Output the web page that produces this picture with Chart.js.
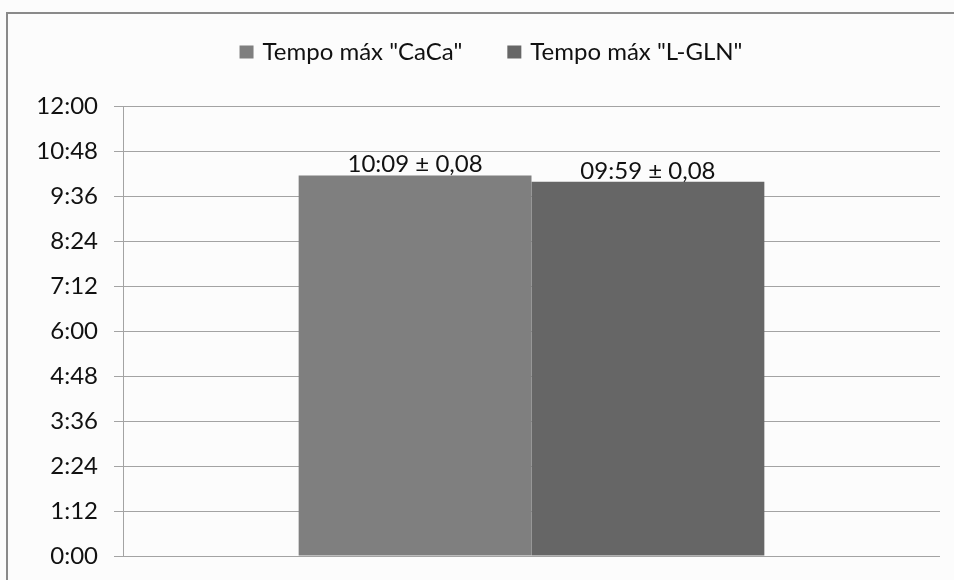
<!DOCTYPE html>
<html>
<head>
<meta charset="utf-8">
<script src="https://cdn.jsdelivr.net/npm/chart.js@4.4.1/dist/chart.umd.min.js"></script>
<style>
  html, body { margin: 0; padding: 0; background: #ffffff; }
  #wrap { width: 954px; height: 580px; position: relative; }
</style>
</head>
<body>
<div id="wrap"><canvas id="chart" width="954" height="580"></canvas></div>
<script>
// Maximum times, stored in seconds (mm:ss)
const categories = [''];
const seriesNames = ['Tempo máx "CaCa"', 'Tempo máx "L-GLN"'];
const caCaSeconds = [609];   // 10:09
const lGlnSeconds = [599];   // 09:59
const errorLabels = ['0,08', '0,08'];
const seriesColors = ['#7f7f7f', '#666666'];

// y-axis: 0:00 .. 12:00 in steps of 1:12
const yMin = 0, yMax = 720, yStep = 72;

const FONT = 'Lato, "Open Sans", sans-serif';
const TEXT = '#111111';
const GRID = '#a3a3a3';

function mmss(sec, pad) {
  const m = Math.floor(sec / 60);
  const s = Math.round(sec % 60);
  const mStr = pad ? String(m).padStart(2, '0') : String(m);
  return mStr + ':' + String(s).padStart(2, '0');
}

// background + outer frame
const framePlugin = {
  id: 'frame',
  beforeDraw(chart) {
    const ctx = chart.ctx;
    ctx.save();
    ctx.fillStyle = '#fcfcfc';
    ctx.fillRect(0, 0, chart.width, chart.height);
    ctx.strokeStyle = '#8a8a8a';
    ctx.lineWidth = 2;
    ctx.strokeRect(7, 13, chart.width + 20, chart.height + 20);
    ctx.restore();
  }
};

// legend row above the plot
const legendRow = {
  id: 'legendRow',
  afterDraw(chart) {
    const ctx = chart.ctx;
    const boxW = 14, boxH = 13, gap = 9, between = 45, cy = 52, centreX = 491;
    ctx.save();
    ctx.font = '24px ' + FONT;
    ctx.textBaseline = 'middle';
    const widths = chart.data.datasets.map(d => ctx.measureText(d.label).width);
    let total = 0;
    widths.forEach((w, i) => { total += boxW + gap + w + (i ? between : 0); });
    let x = centreX - total / 2;
    chart.data.datasets.forEach((d, i) => {
      ctx.fillStyle = d.backgroundColor;
      ctx.fillRect(x, cy - boxH / 2, boxW, boxH);
      ctx.fillStyle = TEXT;
      ctx.fillText(d.label, x + boxW + gap, cy);
      x += boxW + gap + widths[i] + between;
    });
    ctx.restore();
  }
};

// value ± error above each bar
const valueLabels = {
  id: 'valueLabels',
  afterDatasetsDraw(chart) {
    const ctx = chart.ctx;
    ctx.save();
    ctx.font = '24px ' + FONT;
    ctx.fillStyle = TEXT;
    ctx.textAlign = 'center';
    ctx.textBaseline = 'alphabetic';
    chart.data.datasets.forEach((d, i) => {
      const meta = chart.getDatasetMeta(i);
      meta.data.forEach((bar, j) => {
        const txt = mmss(d.data[j], true) + ' \u00b1 ' + errorLabels[i];
        ctx.fillText(txt, bar.x, bar.y - 3);
      });
    });
    ctx.restore();
  }
};

new Chart(document.getElementById('chart'), {
  type: 'bar',
  data: {
    labels: categories,
    datasets: [
      { label: seriesNames[0], data: caCaSeconds, backgroundColor: seriesColors[0], borderWidth: 0 },
      { label: seriesNames[1], data: lGlnSeconds, backgroundColor: seriesColors[1], borderWidth: 0 }
    ]
  },
  options: {
    responsive: false,
    animation: false,
    devicePixelRatio: 1,
    layout: { padding: { top: 106, right: 14, bottom: 24, left: 0 } },
    datasets: { bar: { categoryPercentage: 0.57, barPercentage: 1.0 } },
    plugins: { legend: { display: false }, tooltip: { enabled: false } },
    scales: {
      x: { display: false },
      y: {
        min: yMin,
        max: yMax,
        afterFit(scale) {
          scale.width = 123;
          scale.paddingTop = 0;
          scale.paddingBottom = 0;
        },
        afterBuildTicks(scale) {
          const t = [];
          for (let v = yMin; v <= yMax; v += yStep) t.push({ value: v });
          scale.ticks = t;
        },
        ticks: {
          padding: 16,
          color: TEXT,
          font: { family: FONT, size: 24 },
          callback: v => mmss(v, false)
        },
        grid: { color: GRID, lineWidth: 1, tickLength: 9, drawTicks: true },
        border: { display: true, color: GRID, width: 1 }
      }
    }
  },
  plugins: [framePlugin, legendRow, valueLabels]
});
</script>
</body>
</html>
